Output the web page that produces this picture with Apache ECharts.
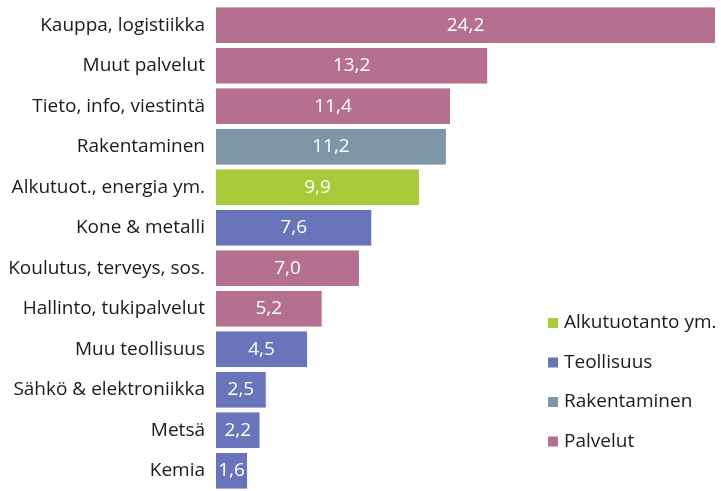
<!DOCTYPE html>
<html>
<head>
<meta charset="utf-8">
<script src="https://cdn.jsdelivr.net/npm/echarts@6/dist/echarts.min.js"></script>
<style>
  html, body { margin: 0; padding: 0; background: #fff; }
  #main { width: 721px; height: 491px; }
</style>
</head>
<body>
<div id="main"></div>
<script>
var categories = ['Kauppa, logistiikka', 'Muut palvelut', 'Tieto, info, viestintä', 'Rakentaminen',
    'Alkutuot., energia ym.', 'Kone & metalli', 'Koulutus, terveys, sos.', 'Hallinto, tukipalvelut',
    'Muu teollisuus', 'Sähkö & elektroniikka', 'Metsä', 'Kemia'];
var values = [24.2, 13.2, 11.4, 11.2, 9.9, 7.6, 7.0, 5.2, 4.5, 2.5, 2.2, 1.6];
// toimialaryhmä kullekin palkille
var groups = ['Palvelut', 'Palvelut', 'Palvelut', 'Rakentaminen', 'Alkutuotanto ym.', 'Teollisuus',
    'Palvelut', 'Palvelut', 'Teollisuus', 'Teollisuus', 'Teollisuus', 'Teollisuus'];
var groupNames = ['Alkutuotanto ym.', 'Teollisuus', 'Rakentaminen', 'Palvelut'];
var groupColors = ['#a9cb3b', '#6a74bb', '#7d96a8', '#b5708f'];

var chart = echarts.init(document.getElementById('main'));

var series = [];
for (var g = 0; g < groupNames.length; g++) {
    var d = [];
    for (var i = 0; i < values.length; i++) {
        d.push(groups[i] === groupNames[g] ? values[i] : null);
    }
    series.push({
        name: groupNames[g],
        type: 'bar',
        stack: 'all',
        data: d,
        barCategoryGap: '7%',
        itemStyle: { color: groupColors[g], borderColor: '#ffffff', borderWidth: 1 },
        label: {
            show: true,
            position: 'inside',
            color: '#ffffff',
            fontSize: 19,
            fontFamily: 'Open Sans',
            formatter: function (p) { return p.value.toFixed(1).replace('.', ','); }
        }
    });
}

var option = {
    animation: false,
    textStyle: { fontFamily: 'Open Sans' },
    grid: { left: 215, right: 5, top: 5, bottom: 0, containLabel: false },
    legend: {
        data: groupNames,
        orient: 'vertical',
        left: 541,
        top: 308,
        icon: 'rect',
        itemWidth: 12,
        itemHeight: 12,
        itemGap: 19.5,
        textStyle: { fontSize: 19, color: '#1a1a1a', fontFamily: 'Open Sans', lineHeight: 20 }
    },
    xAxis: {
        type: 'value',
        min: 0,
        max: 24.2,
        show: false
    },
    yAxis: {
        type: 'category',
        data: categories,
        inverse: true,
        axisLine: { show: false },
        axisTick: { show: false },
        axisLabel: { fontSize: 19, color: '#1a1a1a', margin: 10, fontFamily: 'Open Sans' }
    },
    series: series
};

chart.setOption(option);
</script>
</body>
</html>
